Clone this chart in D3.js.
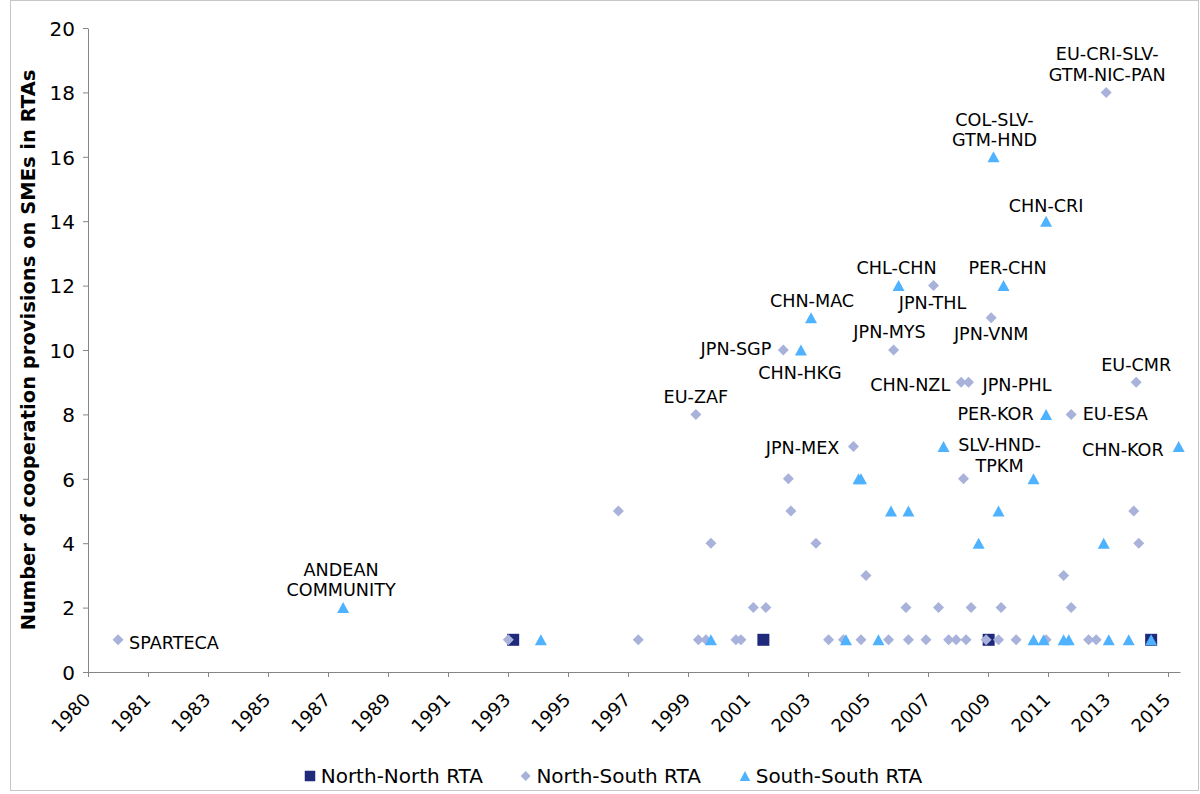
<!DOCTYPE html>
<html>
<head>
<meta charset="utf-8">
<script src="https://cdn.jsdelivr.net/npm/d3@7"></script>
<style>
  body { margin: 0; background: #fff; }
  svg { display: block; font-family: "DejaVu Sans", Verdana, sans-serif; }
</style>
</head>
<body>
<svg id="chart" width="1200" height="794"></svg>
<script>
// Regional trade agreements: entry date and number of cooperation provisions on SMEs.
// Empty label = point drawn without a caption; "\n" splits a caption over two lines.

const northNorthDates  = ["1994-03", "2002-07", "2010-01", "2015-06"];
const northNorthValues = [1, 1, 1, 1];

const northSouthDates = [
  "1981-01", "1994-01", "1997-09", "1998-05", "2000-04", "2000-05", "2000-08", "2000-10",
  "2001-08", "2001-10", "2002-03", "2002-08", "2003-03", "2003-05", "2003-06", "2004-04",
  "2004-09", "2005-03", "2005-07", "2005-10", "2005-12", "2006-09", "2006-11", "2007-04",
  "2007-05", "2007-12", "2008-03", "2008-05", "2008-09", "2008-12", "2009-02", "2009-03",
  "2009-04", "2009-05", "2009-06", "2009-12", "2010-02", "2010-05", "2010-06", "2010-12",
  "2011-12", "2012-07", "2012-10", "2012-10", "2013-05", "2013-08", "2013-12", "2014-11",
  "2014-12", "2015-01"
];
const northSouthValues = [
  1, 1, 5, 1, 8, 1, 1, 4,
  1, 1, 2, 2, 10, 6, 5, 4,
  1, 1, 7, 1, 3, 1, 10, 2,
  1, 1, 12, 2, 1, 1, 9, 6,
  1, 9, 2, 1, 11, 1, 2, 1,
  1, 3, 8, 2, 1, 1, 18, 5,
  9, 4
];
const northSouthLabels = [
  "SPARTECA", "", "", "", "EU-ZAF", "", "", "",
  "", "", "", "", "JPN-SGP", "", "", "",
  "", "", "JPN-MEX", "", "", "", "JPN-MYS", "",
  "", "", "JPN-THL", "", "", "", "CHN-NZL", "",
  "", "JPN-PHL", "", "", "JPN-VNM", "", "", "",
  "", "", "EU-ESA", "", "", "", "EU-CRI-SLV-\nGTM-NIC-PAN", "",
  "EU-CMR", ""
];

const southSouthDates = [
  "1988-07", "1995-02", "2000-10", "2003-10", "2004-02", "2005-04", "2005-09", "2005-10",
  "2006-05", "2006-10", "2007-01", "2007-05", "2008-07", "2009-09", "2010-03", "2010-05",
  "2010-07", "2011-07", "2011-07", "2011-11", "2011-12", "2011-12", "2012-07", "2012-09",
  "2013-11", "2014-01", "2014-09", "2015-06", "2016-05"
];
const southSouthValues = [
  2, 1, 1, 10, 11, 1, 6, 6,
  1, 5, 12, 5, 7, 4, 16, 5,
  12, 6, 1, 1, 14, 8, 1, 1,
  4, 1, 1, 1, 7
];
const southSouthLabels = [
  "ANDEAN\nCOMMUNITY", "", "", "CHN-HKG", "CHN-MAC", "", "", "",
  "", "", "CHL-CHN", "", "SLV-HND-\nTPKM", "", "COL-SLV-\nGTM-HND", "",
  "PER-CHN", "", "", "", "CHN-CRI", "PER-KOR", "", "",
  "", "", "", "", "CHN-KOR"
];

const seriesNames = ["North-North RTA", "North-South RTA", "South-South RTA"];
const yTicks = [0, 2, 4, 6, 8, 10, 12, 14, 16, 18, 20];
const yTitle = "Number of cooperation provisions on SMEs in RTAs";

// Caption placement around its marker: [text-anchor, dx, dy of first line centre]
const captionPlacement = {
  "SPARTECA": ["start", 11, 3],
  "ANDEAN\nCOMMUNITY": ["middle", -2, -38],
  "EU-ZAF": ["middle", 0, -18],
  "JPN-SGP": ["end", -12, -1],
  "CHN-HKG": ["middle", -1, 23],
  "CHN-MAC": ["middle", 1, -17],
  "JPN-MEX": ["end", -14, 1],
  "JPN-MYS": ["middle", -4, -18],
  "CHL-CHN": ["middle", -2, -18],
  "JPN-THL": ["middle", -1, 17.5],
  "CHN-NZL": ["end", -11, 2],
  "JPN-PHL": ["start", 14, 2],
  "JPN-VNM": ["middle", 0, 16],
  "COL-SLV-\nGTM-HND": ["middle", 1, -37.5],
  "PER-CHN": ["middle", 4, -18],
  "SLV-HND-\nTPKM": ["middle", 56, -1.5],
  "PER-KOR": ["end", -12.5, -1],
  "CHN-CRI": ["middle", 0, -16],
  "EU-ESA": ["start", 11.5, -1],
  "EU-CRI-SLV-\nGTM-NIC-PAN": ["middle", 1, -38.5],
  "EU-CMR": ["middle", 0, -17.7],
  "CHN-KOR": ["end", -15, 3]
};

const colors = { nn: "#1F2A7C", ns: "#A8B2DA", ss: "#4FB2FF" };
const axisColor = "#868686";

const parseMonth = d3.timeParse("%Y-%m");
const build = (dates, values, labels) =>
  dates.map((d, i) => ({ date: parseMonth(d), value: values[i], label: labels ? labels[i] : "" }));

const northNorth = build(northNorthDates, northNorthValues);
const northSouth = build(northSouthDates, northSouthValues, northSouthLabels);
const southSouth = build(southSouthDates, southSouthValues, southSouthLabels);

const svg = d3.select("#chart");

// Outer chart frame
svg.append("rect")
  .attr("x", 10.5).attr("y", 0.5).attr("width", 1188).attr("height", 790)
  .attr("fill", "none").attr("stroke", "#c6c6c6").attr("stroke-width", 1);

const start = new Date(1980, 0, 1);
const x = d3.scaleTime().domain([start, new Date(2016, 4, 17)]).range([88, 1180]);
const y = d3.scaleLinear().domain([0, 20]).range([672, 28]);

// Date axis ticks every 730 days from the origin
const xTickDates = d3.range(0, 19).map(i => d3.timeDay.offset(start, 730 * i));

// Y axis
const gy = svg.append("g").attr("transform", `translate(88,0)`)
  .call(d3.axisLeft(y).tickValues(yTicks).tickSize(5).tickSizeOuter(0).tickPadding(8));
gy.select(".domain").attr("stroke", axisColor);
gy.selectAll(".tick line").attr("stroke", axisColor);
gy.selectAll(".tick text")
  .attr("font-family", "DejaVu Sans, Verdana, sans-serif")
  .attr("font-size", 20).attr("fill", "#000").attr("dy", "0.36em");

// X axis
const gx = svg.append("g").attr("transform", `translate(0,672)`)
  .call(d3.axisBottom(x).tickValues(xTickDates).tickFormat(d3.timeFormat("%Y"))
    .tickSize(5).tickSizeOuter(0));
gx.select(".domain").attr("stroke", axisColor);
gx.selectAll(".tick line").attr("stroke", axisColor);
gx.selectAll(".tick text")
  .attr("font-family", "DejaVu Sans, Verdana, sans-serif")
  .attr("font-size", 18).attr("fill", "#000")
  .attr("x", 0).attr("y", 0).attr("dy", 0)
  .attr("text-anchor", "end")
  .attr("transform", "translate(3,29) rotate(-45)");

// Y axis title
svg.append("text")
  .attr("transform", "translate(35,350) rotate(-90)")
  .attr("text-anchor", "middle")
  .attr("font-weight", "bold").attr("font-size", 19.5).attr("fill", "#000")
  .text(yTitle);

// Marker shapes centred on their bounding box
const squarePath = s => `M${-s / 2},${-s / 2}h${s}v${s}h${-s}Z`;
const diamondPath = s => `M0,${-s / 2}L${s / 2},0L0,${s / 2}L${-s / 2},0Z`;
const trianglePath = (w, h) => `M0,${-h / 2}L${w / 2},${h / 2}L${-w / 2},${h / 2}Z`;

const plot = svg.append("g");
function drawSeries(data, path, color) {
  plot.append("g").selectAll("path").data(data).join("path")
    .attr("d", path)
    .attr("fill", color)
    .attr("transform", d => `translate(${x(d.date)},${y(d.value)})`);
}
drawSeries(northNorth, squarePath(12), colors.nn);
drawSeries(northSouth, diamondPath(11), colors.ns);
drawSeries(southSouth, trianglePath(12, 11), colors.ss);

// Captions
const captionSize = 17.6, lineGap = 20.5;
const captioned = northSouth.concat(southSouth).filter(d => d.label);
const cap = svg.append("g")
  .attr("font-family", "DejaVu Sans, Verdana, sans-serif")
  .attr("font-size", captionSize).attr("fill", "#000");
captioned.forEach(d => {
  const [anchor, dx, dy] = captionPlacement[d.label];
  const cx = x(d.date) + dx;
  const cy = y(d.value) + dy;
  const t = cap.append("text").attr("text-anchor", anchor);
  d.label.split("\n").forEach((line, i) => {
    t.append("tspan").attr("x", cx).attr("y", cy + i * lineGap + captionSize * 0.36).text(line);
  });
});

// Legend
const legendItems = [
  { name: seriesNames[0], path: squarePath(10.5), color: colors.nn, mx: 310 },
  { name: seriesNames[1], path: diamondPath(10), color: colors.ns, mx: 525.7 },
  { name: seriesNames[2], path: trianglePath(10.5, 10), color: colors.ss, mx: 745 }
];
const lg = svg.append("g");
legendItems.forEach(it => {
  lg.append("path").attr("d", it.path).attr("fill", it.color)
    .attr("transform", `translate(${it.mx},776)`);
  lg.append("text").attr("x", it.mx + 10.7).attr("y", 776 + 20 * 0.36)
    .attr("font-size", 20).attr("fill", "#000").text(it.name);
});
</script>
</body>
</html>
